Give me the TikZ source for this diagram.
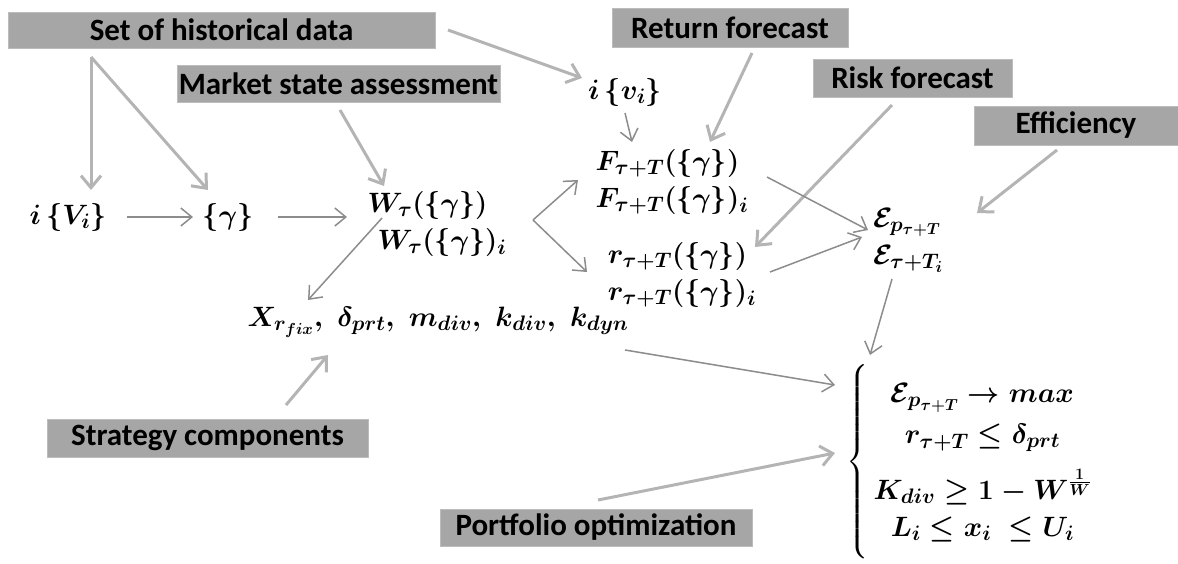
\documentclass[tikz,border=0pt]{standalone}
\usepackage{fix-cm}
\usepackage{amsmath}
\usepackage{fontspec}
\newfontfamily\lblfont{Carlito}
\DeclareMathSizes{28}{28}{21}{16}
\usetikzlibrary{arrows.meta,calc}
\definecolor{boxgray}{HTML}{A6A6A6}
\definecolor{thickgray}{HTML}{B4B4B4}
\definecolor{thingray}{HTML}{8C8C8C}
\begin{document}
\begin{tikzpicture}[x=1pt,y=-1pt,
 lbl/.style={fill=boxgray, draw=boxgray!75, line width=1pt, font=\lblfont\bfseries\fontsize{31}{36}\selectfont, inner sep=0pt, text=black},
 mth/.style={font=\fontsize{28}{37}\selectfont\boldmath, inner sep=0pt},
 thk/.style={draw=thickgray, line width=3pt, -{Straight Barb[length=12pt,width=20pt]}},
 thn/.style={draw=thingray, line width=1.5pt, -{Straight Barb[length=11pt,width=18pt]}},
]
\useasboundingbox (0,0) rectangle (1178,563);
% label boxes
\node[lbl, minimum width=427pt, minimum height=36pt] (set) at (221.5,30) {Set of historical data};
\node[lbl, minimum width=323pt, minimum height=37pt] (market) at (338.5,83.5) {Market state assessment};
\node[lbl, minimum width=236pt, minimum height=39pt] (ret) at (730,27.5) {Return forecast};
\node[lbl, minimum width=199pt, minimum height=38pt] (risk) at (912.5,78) {Risk forecast};
\node[lbl, minimum width=204pt, minimum height=39pt] (eff) at (1076,125.5) {Efficiency};
\node[lbl, minimum width=321pt, minimum height=38pt] (strat) at (207.5,438) {Strategy components};
\node[lbl, minimum width=312pt, minimum height=37pt] (port) at (596,527.5) {Portfolio optimization};
% math nodes
\node[mth] (iV) at (68,217) {$i\,\{V_i\}$};
\node[mth] (gam) at (228,217) {$\{\gamma\}$};
\node[mth, align=left] (W) at (437,224) {$W_\tau(\{\gamma\})$\\\hspace*{10pt}$W_\tau(\{\gamma\})_i$};
\node[mth] (iv) at (625,92) {$i\,\{v_i\}$};
\node[mth, align=left] (F) at (672,182) {$F_{\tau+T}(\{\gamma\})$\\$F_{\tau+T}(\{\gamma\})_i$};
\node[mth, align=left] (r) at (682,275) {$r_{\tau+T}(\{\gamma\})$\\$r_{\tau+T}(\{\gamma\})_i$};
\node[mth, align=left] (E) at (908,240) {$\mathcal{E}_{p_{\tau+T}}$\\$\mathcal{E}_{\tau+T_i}$};
\node[mth] (X) at (438,322) {$X_{r_{fix}},\;\delta_{prt},\;m_{div},\;k_{div},\;k_{dyn}$};
\node[mth] (sys) at (972,462) {$\left\{\rule[-90pt]{0pt}{180pt}\begin{array}{c}
\mathcal{E}_{p_{\tau+T}}\rightarrow max\\[4pt]
r_{\tau+T}\le\delta_{prt}\\[14pt]
K_{div}\ge 1-W^{\frac{1}{W}}\\
L_i\le x_i\ \le U_i
\end{array}\right.$};
% thick arrows from labels
\draw[thk] ($(set)+(-130.5,27)$) -- ($(iV)+(23,-27)$);
\draw[thk] ($(set)+(-130.5,27)$) -- ($(gam)+(-20,-27)$);
\draw[thk] ($(set)+(226.5,0)$) -- ($(iv)+(-43,-14)$);
\draw[thk] ($(market)+(1.5,26.5)$) -- ($(W)+(-53,-38)$);
\draw[thk] ($(ret)+(22,25.5)$) -- ($(F)+(38,-40)$);
\draw[thk] ($(risk)+(-20.5,27)$) -- ($(r)+(73,-28)$);
\draw[thk] ($(eff)+(-19,24.5)$) -- ($(E)+(69,-27)$);
\draw[thk] ($(strat)+(78.5,-33)$) -- ($(X)+(-110,33)$);
\draw[thk] ($(port)+(2,-27.5)$) -- ($(sys)+(-137,-9)$);
% thin arrows
\draw[thn] ($(iV)+(59,0)$) -- ($(gam)+(-35,0)$);
\draw[thn] ($(gam)+(50,0)$) -- ($(W)+(-90,-7)$);
\draw[thn] ($(iv)+(0,21)$) -- ($(F)+(-40,-40)$);
\draw[thn] ($(W)+(96,-4)$) -- ($(F)+(-94,-2)$);
\draw[thn] ($(W)+(96,-4)$) -- ($(r)+(-95,-3)$);
\draw[thn] ($(W)+(-55,-6)$) -- ($(X)+(-130,-22)$);
\draw[thn] ($(F)+(95,-5)$) -- ($(E)+(-40,-10)$);
\draw[thn] ($(r)+(88,-3)$) -- ($(E)+(-46,-3)$);
\draw[thn] ($(E)+(-16,39)$) -- ($(sys)+(-102,-107)$);
\draw[thn] ($(X)+(187,28)$) -- ($(sys)+(-137,-77)$);
\end{tikzpicture}
\end{document}
